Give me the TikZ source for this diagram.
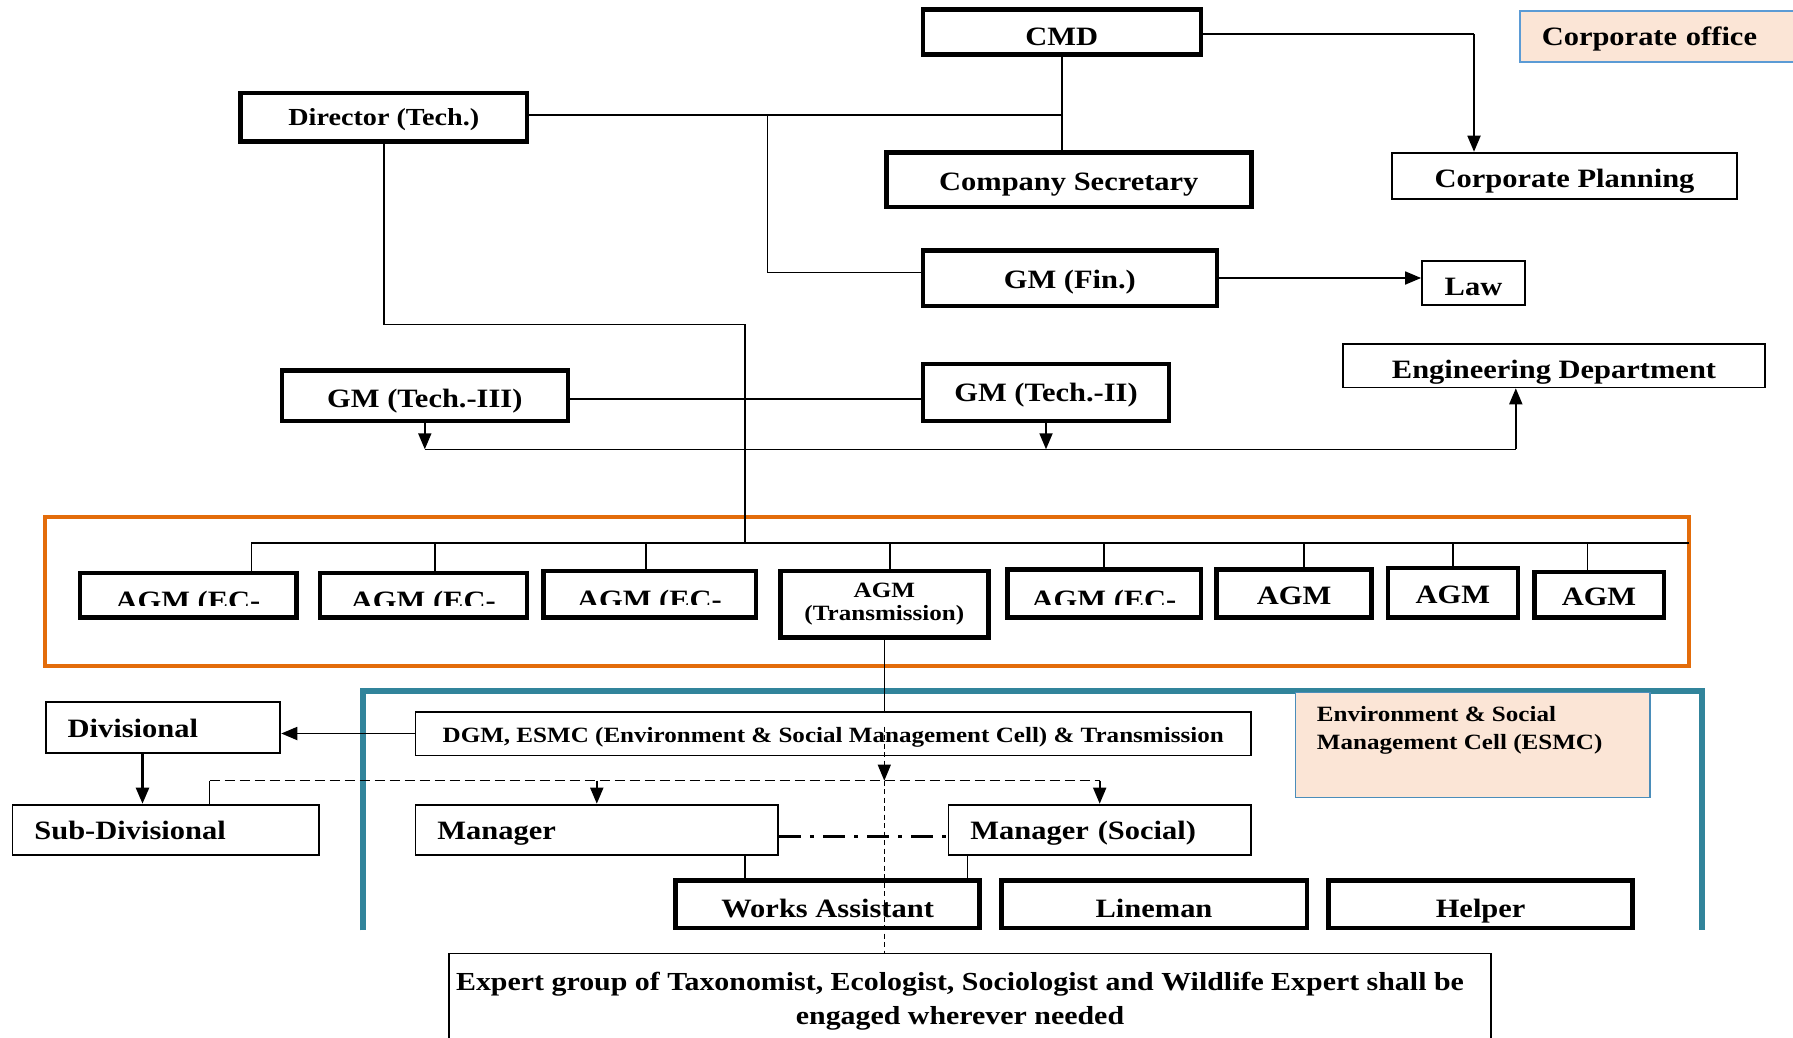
\documentclass[tikz,border=0pt]{standalone}
\usepackage{fontspec}
\setmainfont{Liberation Serif}[FakeStretch=1.15]
\usetikzlibrary{arrows.meta}
\definecolor{frameorange}{HTML}{E36C0A}
\definecolor{frameteal}{HTML}{31849B}
\definecolor{peach}{HTML}{FBE5D6}
\definecolor{edgeblue}{HTML}{5B9BD5}
\definecolor{esmcblue}{HTML}{4A8DBA}
\begin{document}
\begin{tikzpicture}[x=1pt,y=-1pt]
  \tikzset{box size/.style 2 args={minimum width=#1pt,minimum height=#2pt},
    box base/.style={draw,inner sep=0pt,font=\bfseries\fontsize{26.5}{30}\selectfont},
    one line/.style={text height=21.5pt,text depth=0pt},
    low text/.style={text height=#1pt},
    thick box/.style={box base,line width=4.5pt,one line},
    thin box/.style={box base,line width=1.8pt,one line},
    peach box/.style={thin box,line width=1.5pt,draw=#1,fill=peach},
    left text/.style={align=left,text width=#1pt,inner xsep=22pt},
    small font/.style={font=\bfseries\fontsize{21.8}{22.5}\selectfont},
    conn line/.style={line width=1.5pt},
    arrow line/.style={line width=1.8pt,-{Triangle[length=16pt,width=13pt]}},
    dash line/.style={line width=1.3pt,dash pattern=on 10pt off 5pt},
    thin dash line/.style={line width=1.2pt,dash pattern=on 5pt off 3.5pt},
    dashdot line/.style={line width=3pt,dash pattern=on 22pt off 9pt on 4pt off 9pt}}

  \path[use as bounding box,fill=white] (0,0) rectangle (1793,1038);

  % frames
  \draw[frameorange,line width=4pt] (45,517) rectangle (1689,666);
  \draw[frameteal,line width=6pt] (363.4,930.3) -- (363.4,690.5) -- (1702.4,690.5) -- (1702.4,930.3);

  % top of the chart
  \node[thick box,box size={278}{45},low text=27] (cmd) at (1061.8,32) {CMD};
  \node[peach box=edgeblue,box size={294.5}{51.2},left text=250.5,low text=17.5] (corp) at (1667,36.4) {Corporate office};
  \node[thick box,box size={286.5}{48.8},font=\bfseries\fontsize{24.5}{28}\selectfont,low text=16.2] (dir) at (383.8,117.3) {Director (Tech.)};
  \node[thick box,box size={365}{54.5}] (cs) at (1068.8,179.5) {Company Secretary};
  \node[thin box,box size={345}{46.5},low text=23] (cp) at (1564.5,175.9) {Corporate Planning};
  \node[thick box,box size={294}{55.5}] (gmfin) at (1069.8,278) {GM (Fin.)};
  \node[thin box,box size={103}{44.2},low text=25] (law) at (1473.5,283) {Law};
  \node[thin box,box size={421.3}{43.2},low text=25] (eng) at (1554,365.8) {Engineering Department};
  \node[thick box,box size={246.3}{57.1},low text=17.5] (gm2) at (1046,392.5) {GM (Tech.-II)};
  \node[thick box,box size={286}{50.5},low text=23] (gm3) at (424.8,395.8) {GM (Tech.-III)};

  % AGM row
  \node[thick box,box size={216.5}{44.5}] (ec1) at (188,595.2) {};
  \node[thick box,box size={207}{44.5}] (ec2) at (423.3,595.2) {};
  \node[thick box,box size={212.5}{46.5}] (ec3) at (649.5,594.2) {};
  \node[box base,line width=4.5pt,small font,align=center,box size={208}{66.5}] (agmT) at (884.3,604.2) {AGM\\(Transmission)};
  \node[thick box,box size={193.5}{48}] (ec4) at (1104,593.5) {};
  \node[thick box,box size={155}{48},low text=22.5] (agm6) at (1294.2,593.5) {AGM};
  \node[thick box,box size={130}{49.5},low text=22.5] (agm7) at (1452.8,592.7) {AGM};
  \node[thick box,box size={129.5}{45.5},low text=22.5] (agm8) at (1599,594.7) {AGM};
  \foreach \b in {ec1,ec2,ec3,ec4}{
    \begin{scope}
      \clip (\b.north west) rectangle ([yshift=-10.5pt]\b.east);
      \node[box base,draw=none,one line] (\b-t) at ([yshift=-4pt]\b.center) {AGM (EC-};
    \end{scope}
  }

  % ESMC part
  \node[thin box,small font,text height=18pt,box size={835.5}{43.8}] (dgm) at (833.2,733.5) {DGM, ESMC (Environment \& Social Management Cell) \& Transmission};
  \node[peach box=esmcblue,box size={354.4}{105.1}] (esmc) at (1472.8,745) {};
  \node[anchor=north west,inner sep=0pt,align=left,font=\bfseries\fontsize{21.8}{28}\selectfont] (esmc-t) at (1316.7,706.3) {Environment \& Social\\Management Cell (ESMC)};
  \node[thin box,left text=190.7,box size={0}{50.9},low text=19] (div) at (163,727.7) {Divisional};
  \node[thin box,left text=262.4,box size={0}{50.2},low text=19] (sub) at (165.6,829.7) {Sub-Divisional};
  \node[thin box,left text=318.7,box size={0}{50.2},low text=19] (mgr) at (596.8,829.7) {Manager};
  \node[thin box,left text=258.5,box size={0}{50.2},low text=19] (mgrs) at (1099.7,829.7) {Manager (Social)};
  \node[thick box,box size={304}{47.8},low text=27] (works) at (827.7,904.2) {Works Assistant};
  \node[thick box,box size={305.5}{47.8},low text=27] (lineman) at (1154,904.2) {Lineman};
  \node[thick box,box size={303.8}{47.8},low text=27] (helper) at (1480.6,904.2) {Helper};
  \node[draw,line width=1.8pt,anchor=north,minimum width=1042.2pt,minimum height=120pt] (expert) at (970,952.6) {};
  \node[anchor=north,inner sep=0pt,align=center,font=\bfseries\fontsize{26}{34}\selectfont] (expert-t) at (960,972) {Expert group of Taxonomist, Ecologist, Sociologist and Wildlife Expert shall be\\engaged wherever needed};

  % connectors, top
  \coordinate (cpturn) at (1474,34);
  \coordinate (cmdjoin) at (1061.8,115);
  \coordinate (finturn) at (767.5,115);
  \coordinate (finlevel) at (767.5,272.7);
  \coordinate (gmlink) at (570,399);
  \coordinate (dirturn) at (745,324.3);
  \coordinate (engturn) at (1515.8,449.3);
  \coordinate (agmbus) at (1689,543);
  \draw[conn line] (dir.east |- cmdjoin) -- (cmdjoin);
  \draw[conn line] (cmd.south) -- (cmd.south |- cs.north);
  \draw[conn line] (cmd.east |- cpturn) -- (cpturn);
  \draw[arrow line] (cpturn) -- (cpturn |- cp.north);
  \draw[conn line] (finturn) -- (finlevel) -- (finlevel -| gmfin.west);
  \draw[arrow line] (gmfin.east) -- (gmfin.east -| law.west);
  \draw[conn line] (gmlink) -- (gmlink -| gm2.west);
  \draw[arrow line] (gm3.south) -- (gm3.south |- engturn);
  \draw[arrow line] (gm2.south) -- (gm2.south |- engturn);
  \draw[conn line] (gm3.south |- engturn) -- (engturn);
  \draw[arrow line] (engturn) -- (engturn |- eng.south);
  \draw[conn line] (dir.south) |- (dirturn) -- (dirturn |- agmbus);
  \foreach \b/\d in {ec1/63.4,ec2/11.7,ec3/-3.5,agmT/5.7,ec4/0,agm6/10,agm7/0,agm8/-11.4}{
    \coordinate (t\b) at ([xshift=\d pt]\b.north);
    \draw[conn line] (t\b) -- (t\b |- agmbus);
  }
  \draw[conn line] (tec1 |- agmbus) -- (agmbus);

  % connectors, bottom
  \coordinate (dashtop) at (884.3,726.7);
  \coordinate (subturn) at (209.5,780.7);
  \coordinate (divdrop) at (142.5,754);
  \coordinate (mgrdrop) at (745,855.7);
  \coordinate (mgrsdrop) at (967.6,855.7);
  \coordinate (dd) at ([yshift=-7pt]mgr.east);
  \draw[conn line] (agmT.south) -- (agmT.south |- dgm.north);
  \draw[arrow line] (dgm.west) -- (dgm.west -| div.east);
  \draw[arrow line,line width=2.4pt] (divdrop) -- (divdrop |- sub.north);
  \draw[conn line] (sub.north -| subturn) -- (subturn);
  \draw[dash line] (subturn) -- (subturn -| mgrs.north);
  \draw[arrow line] (subturn -| mgr.north) -- (mgr.north);
  \draw[arrow line] (subturn -| mgrs.north) -- (mgrs.north);
  \draw[thin dash line,-{Triangle[length=16pt,width=13pt]}] (dashtop) -- (dashtop |- subturn);
  \draw[thin dash line] (dashtop |- subturn) -- (dashtop |- expert.north);
  \draw[dashdot line] (dd) -- (dd -| mgrs.west);
  \draw[conn line] (mgrdrop) -- (mgrdrop |- works.north);
  \draw[conn line] (mgrsdrop) -- (mgrsdrop |- works.north);
\end{tikzpicture}
\end{document}
